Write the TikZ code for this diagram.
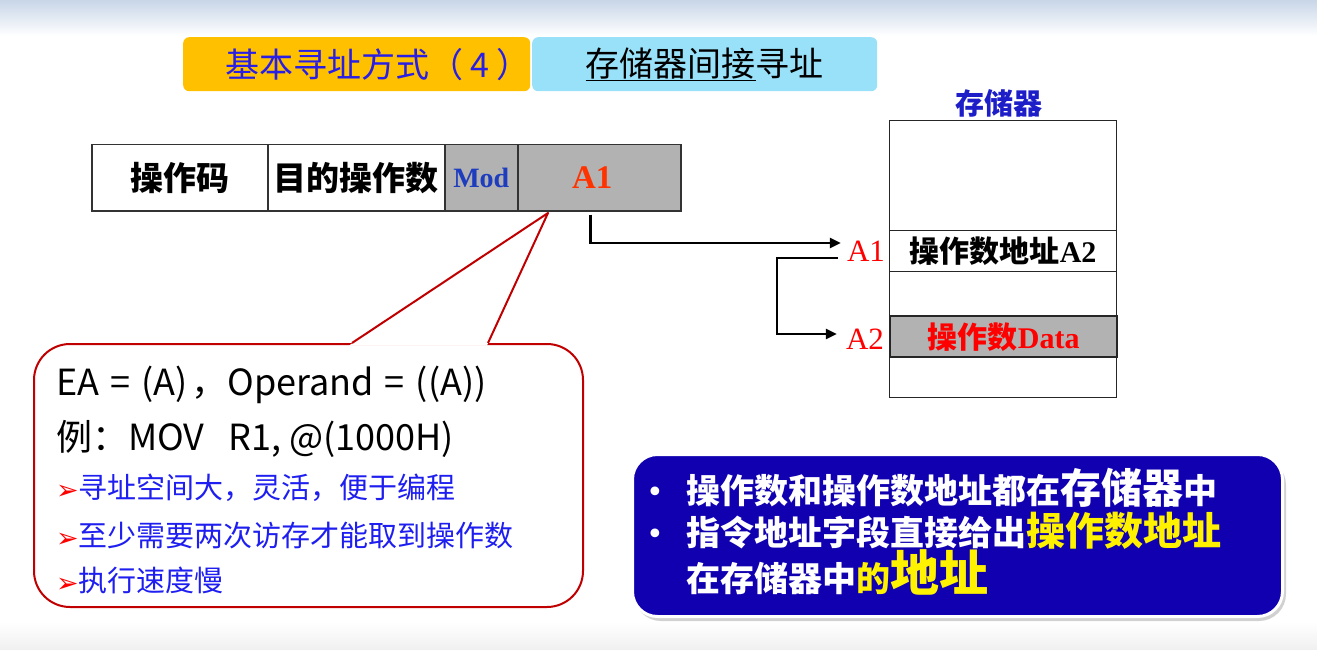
\documentclass[tikz,border=0pt]{standalone}
\usepackage{fontspec}
\setmainfont{Noto Sans CJK SC}
\newfontfamily\tms{Liberation Serif}
\newfontfamily\sym{DejaVu Sans}
\usetikzlibrary{arrows.meta}
\definecolor{orng}{HTML}{FFC000}
\definecolor{lblue}{HTML}{99E1F9}
\definecolor{ttlblue}{RGB}{40,30,230}
\definecolor{memblue}{RGB}{30,30,200}
\definecolor{modblue}{RGB}{30,60,190}
\definecolor{aorange}{HTML}{FF3300}
\definecolor{cgray}{HTML}{B2B2B2}
\definecolor{cred}{HTML}{C00000}
\definecolor{txtblue}{RGB}{30,30,240}
\definecolor{boxblue}{RGB}{16,0,176}
\definecolor{topblue}{RGB}{200,214,232}
\newcommand\fsz[1]{\fontsize{#1}{#1}\selectfont}
\newcommand\mybul{{\sym\fsz{27}\textcolor{red}{\raisebox{-1pt}{➢}}}}
\newcommand\gap[1][11pt]{\hspace{#1}}
\tikzset{
  titlebox/.style={rounded corners=6pt, inner sep=0pt, anchor=north west, minimum height=54pt},
  cell/.style={draw=black!80, line width=1.5pt, inner sep=0pt, anchor=north west, minimum height=66pt, font=\fsz{33}\bfseries},
  mem/.style={draw=black!85, line width=1.3pt, inner sep=0pt, anchor=north west, minimum width=227pt, font=\fsz{30}\bfseries},
  lbl/.style={inner sep=0pt, text=red, font=\tms\fsz{31}},
  conn/.style={line width=2.6pt, -{Triangle[length=11pt,width=10pt]}},
  ctext/.style={anchor=base west, inner sep=0pt},
}
\begin{document}
\begin{tikzpicture}[x=1pt,y=-1pt]
\useasboundingbox (0,0) rectangle (1317,650);
% background fades
\shade[top color=topblue, bottom color=white] (0,0) rectangle (1317,36);
\shade[top color=white, bottom color=black!6] (0,622) rectangle (1317,650);

% titles
\node[titlebox, fill=orng, minimum width=347pt, text=ttlblue, font=\fsz{34}] (t1) at (183,37) {\hspace*{42pt}基本寻址方式（\hspace{7pt}4\hspace{7pt}）};
\node[titlebox, fill=lblue, minimum width=345pt, font=\fsz{34}] (t2) at (532,37) {\underline{存储器间接}寻址};

% instruction format
\node[cell, minimum width=176pt] (opc) at (91,144) {操作码};
\node[cell, minimum width=177pt] (dst) at (267,144) {目的操作数};
\node[cell, minimum width=73pt, fill=cgray, text=modblue, font=\tms\fsz{28}\bfseries] (mod) at (444,144) {Mod};
\node[cell, minimum width=163pt, fill=cgray, text=aorange, font=\tms\fsz{33}\bfseries] (a1) at (517,144) {\hspace*{-14pt}A1};

% memory
\node[text=memblue, font=\fsz{29}\bfseries] (memt) at (999,103) {存储器};
\node[mem, minimum height=110pt] (m0) at (889,120) {};
\node[mem, minimum height=41pt] (m1) at (889,230) {操作数地址{\tms\bfseries A2}};
\node[mem, minimum height=44pt] (m2) at (889,271) {};
\node[mem, minimum height=41pt, fill=cgray, line width=2.4pt, text=red] (m3) at (889,315) {操作数{\tms\bfseries Data}};
\node[mem, minimum height=41pt] (m4) at (889,356) {};

\node[lbl] (la1) at (866,251) {A1};
\node[lbl] (la2) at (865,339) {A2};

% connectors
\draw[conn] ([xshift=-9pt,yshift=-3pt]a1.south) |- ([xshift=-6pt,yshift=8pt]la1.west);
\coordinate (turn) at (777,258);
\draw[conn] ([xshift=-9pt,yshift=-7pt]la1.west) -- (turn) |- ([xshift=-9pt,yshift=5pt]la2.west);

% callout
\node[draw=cred, line width=2pt, fill=white, rounded corners=36pt, minimum width=549pt, minimum height=263pt, inner sep=0pt, anchor=north west] (callout) at (33,343) {};
\fill[white] (349,345.5) -- (548,213) -- (487,345.5) -- cycle;
\draw[cred, line width=2pt, line join=round] (352,343) -- (548,213) -- (488,343);

\node[ctext, font=\fsz{36}] (ea) at (56,395) {EA\gap=\gap(A)\gap[4pt]，Operand\gap=\gap((A))};
\node[ctext, font=\fsz{36}] (ex) at (56,450) {例：MOV\gap[24pt]R1,\gap[8pt]@(1000H)};
\node[ctext, font=\fsz{29}] (b1) at (56,498) {\mybul\textcolor{txtblue}{寻址空间大，灵活，便于编程}};
\node[ctext, font=\fsz{29}] (b2) at (56,546) {\mybul\textcolor{txtblue}{至少需要两次访存才能取到操作数}};
\node[ctext, font=\fsz{29}] (b3) at (56,591) {\mybul\textcolor{txtblue}{执行速度慢}};

% blue summary box
\fill[black!18, rounded corners=27pt] (634,458) rectangle (1286,621);
\node[draw=white, line width=3pt, fill=boxblue, rounded corners=25pt, minimum width=650pt, minimum height=162pt, inner sep=0pt, anchor=north west] (sbox) at (631,453) {};
\node[ctext, text=white, font=\sym\fsz{30}] (s1) at (646,502) {•};
\node[ctext, text=white, font=\sym\fsz{30}] (s2) at (646,544) {•};
\node[ctext, text=white, font=\fsz{34}\bfseries] (l1) at (686,503) {操作数和操作数地址都在{\fsz{41}存储器}中};
\node[ctext, text=white, font=\fsz{34}\bfseries] (l2) at (686,545) {指令地址字段直接给出\textcolor{yellow}{\fsz{39}操作数地址}};
\node[ctext, text=white, font=\fsz{34}\bfseries] (l3) at (686,591) {在存储器中\textcolor{yellow}{的{\fsz{49}地址}}};
\end{tikzpicture}
\end{document}
